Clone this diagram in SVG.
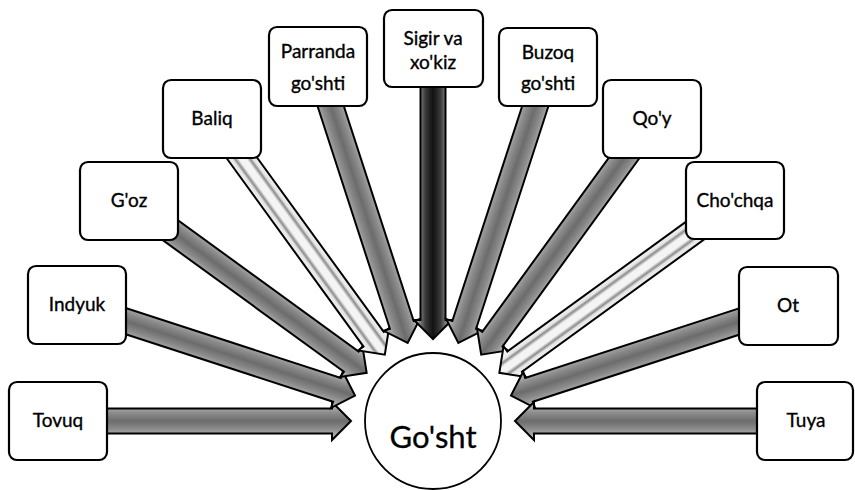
<svg xmlns="http://www.w3.org/2000/svg" width="855" height="490" viewBox="0 0 855 490">
<style>
.box{fill:#fff;stroke:#000;stroke-width:2.2}
.lbl{font-family:Lato,"Open Sans","Liberation Sans",sans-serif;font-size:19px;fill:#000;stroke:#000;stroke-width:0.35;text-anchor:middle}
.arr{stroke:#000;stroke-width:2;stroke-linejoin:miter}
.mid{fill:url(#gMid)}
.dark{fill:url(#gDark)}
.light{fill:url(#gLight)}
</style>
<defs>
<linearGradient id="gMid" x1="0" y1="0" x2="0" y2="1">
<stop offset="0" stop-color="#c8c8c8"/><stop offset="0.3" stop-color="#8a8a8a"/><stop offset="0.5" stop-color="#6c6c6c"/><stop offset="0.7" stop-color="#8a8a8a"/><stop offset="1" stop-color="#c8c8c8"/>
</linearGradient>
<linearGradient id="gDark" x1="0" y1="0" x2="0" y2="1">
<stop offset="0" stop-color="#d0d0d0"/><stop offset="0.3" stop-color="#3a3a3a"/><stop offset="0.5" stop-color="#111"/><stop offset="0.7" stop-color="#3a3a3a"/><stop offset="1" stop-color="#d0d0d0"/>
</linearGradient>
<linearGradient id="gLight" x1="0" y1="0" x2="0" y2="1">
<stop offset="0" stop-color="#fff"/><stop offset="0.28" stop-color="#e6e6e6"/><stop offset="0.34" stop-color="#8c8c8c"/><stop offset="0.42" stop-color="#f4f4f4"/><stop offset="0.58" stop-color="#f4f4f4"/><stop offset="0.66" stop-color="#8c8c8c"/><stop offset="0.72" stop-color="#e6e6e6"/><stop offset="1" stop-color="#fff"/>
</linearGradient>
<polygon id="arrowShape" points="370,-12.5 101,-12.5 101,-19 82,0 101,19 101,12.5 370,12.5"/>
</defs>

<g id="connectors">
<use href="#arrowShape" class="arr mid" transform="translate(433,421) rotate(-180)"/>
<use href="#arrowShape" class="arr mid" transform="translate(433,421) rotate(-162)"/>
<use href="#arrowShape" class="arr mid" transform="translate(433,421) rotate(-144)"/>
<use href="#arrowShape" class="arr light" transform="translate(433,421) rotate(-126)"/>
<use href="#arrowShape" class="arr mid" transform="translate(433,421) rotate(-108)"/>
<use href="#arrowShape" class="arr dark" transform="translate(433,421) rotate(-90)"/>
<use href="#arrowShape" class="arr mid" transform="translate(433,421) rotate(-72)"/>
<use href="#arrowShape" class="arr mid" transform="translate(433,421) rotate(-54)"/>
<use href="#arrowShape" class="arr light" transform="translate(433,421) rotate(-36)"/>
<use href="#arrowShape" class="arr mid" transform="translate(433,421) rotate(-18)"/>
<use href="#arrowShape" class="arr mid" transform="translate(433,421) rotate(0)"/>
</g>

<g id="gosht">
<circle cx="433" cy="421" r="68" fill="#fff" stroke="#000" stroke-width="1.8"/>
<text x="433" y="448" class="lbl" style="font-size:31px;stroke-width:0.3">Go'sht</text>
</g>

<g id="tovuq"><rect class="box" x="9" y="382" width="98" height="78" rx="8"/><text class="lbl" x="58" y="427">Tovuq</text></g>
<g id="indyuk"><rect class="box" x="28" y="266" width="98" height="78" rx="8"/><text class="lbl" x="77" y="311">Indyuk</text></g>
<g id="goz"><rect class="box" x="80" y="162" width="98" height="78" rx="8"/><text class="lbl" x="129" y="207">G'oz</text></g>
<g id="baliq"><rect class="box" x="163" y="80" width="98" height="78" rx="8"/><text class="lbl" x="212" y="125">Baliq</text></g>
<g id="parranda"><rect class="box" x="269" y="27" width="98" height="79" rx="8"/><text class="lbl" x="318" y="58">Parranda</text><text class="lbl" x="318" y="90">go'shti</text></g>
<g id="sigir"><rect class="box" x="384" y="10" width="99" height="77" rx="8"/><text class="lbl" x="433" y="45">Sigir va</text><text class="lbl" x="433" y="69">xo'kiz</text></g>
<g id="buzoq"><rect class="box" x="499" y="28" width="98" height="78" rx="8"/><text class="lbl" x="548" y="59">Buzoq</text><text class="lbl" x="548" y="90">go'shti</text></g>
<g id="qoy"><rect class="box" x="603" y="80" width="98" height="78" rx="8"/><text class="lbl" x="652" y="125">Qo'y</text></g>
<g id="chochqa"><rect class="box" x="686" y="162" width="98" height="77" rx="8"/><text class="lbl" x="735" y="207">Cho'chqa</text></g>
<g id="ot"><rect class="box" x="739" y="267" width="99" height="78" rx="8"/><text class="lbl" x="788" y="312">Ot</text></g>
<g id="tuya"><rect class="box" x="757" y="382" width="96" height="78" rx="8"/><text class="lbl" x="806" y="427">Tuya</text></g>
</svg>
